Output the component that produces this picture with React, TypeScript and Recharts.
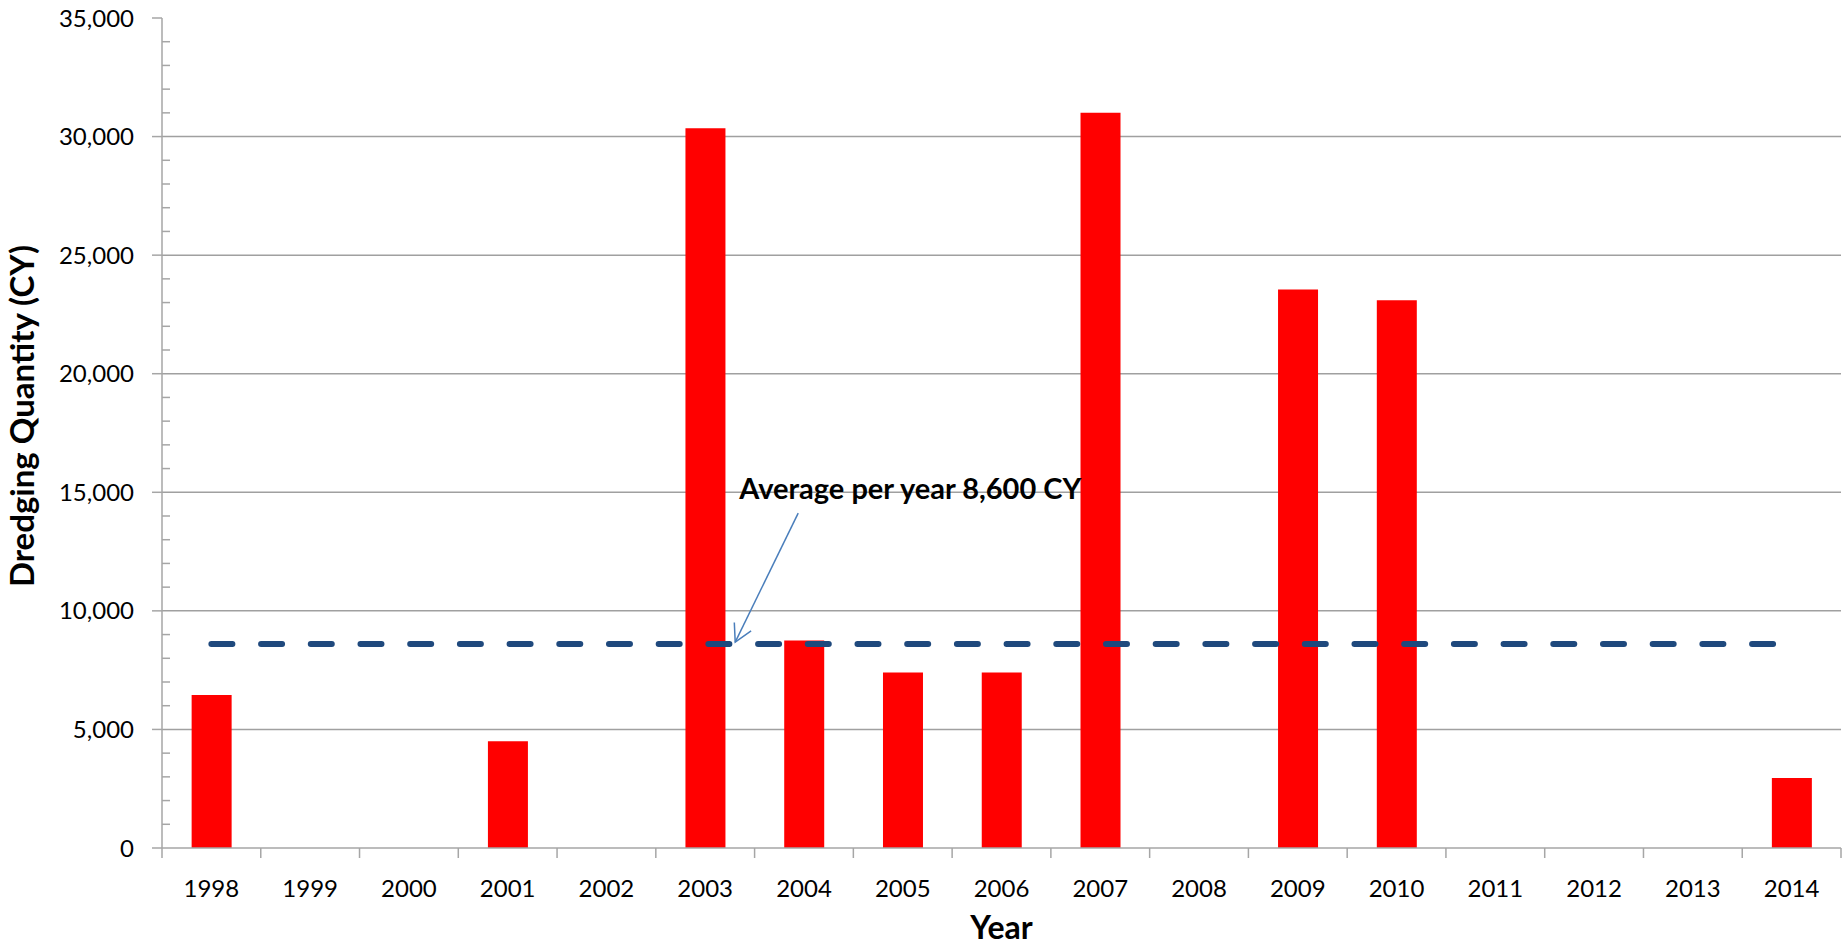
import React from 'react';
import {
  ComposedChart,
  Bar,
  Line,
  XAxis,
  YAxis,
  CartesianGrid,
  ReferenceDot,
} from 'recharts';

// Annual dredged volume by year (cubic yards)
const YEARS = [
  '1998', '1999', '2000', '2001', '2002', '2003', '2004', '2005', '2006',
  '2007', '2008', '2009', '2010', '2011', '2012', '2013', '2014',
];
const QUANTITY = [
  6450, 0, 0, 4500, 0, 30350, 8750, 7400, 7400,
  31000, 0, 23550, 23100, 0, 0, 0, 2950,
];
// Long-term average dredged per year
const AVERAGE = 8600;

// Labelled (major) y ticks and the minor step between them
const MAJOR_TICKS = [0, 5000, 10000, 15000, 20000, 25000, 30000, 35000];
const MINOR_STEP = 1000;

const ALL_Y_TICKS: number[] = [];
MAJOR_TICKS.forEach((t, i) => {
  ALL_Y_TICKS.push(t);
  if (i < MAJOR_TICKS.length - 1) {
    for (let m = t + MINOR_STEP; m < MAJOR_TICKS[i + 1]; m += MINOR_STEP) ALL_Y_TICKS.push(m);
  }
});

const data = YEARS.map((year, i) => ({
  year,
  quantity: QUANTITY[i],
  average: AVERAGE,
}));

const W = 1845;
const H = 947;
const MARGIN = { top: 18, right: 4, bottom: 0, left: 0 };
const Y_AXIS_W = 162;
const X_AXIS_H = 99;

const AXIS_GREY = '#A6A6A6';
const GRID_GREY = '#A0A0A0';
const FRAME = '#595959';
const FONT = 'Lato, "Open Sans", sans-serif';

const YTick = (props: any) => {
  const { x, y, payload } = props;
  const v = payload.value as number;
  if (MAJOR_TICKS.includes(v)) {
    return (
      <g>
        <line x1={x - 10} x2={x} y1={y} y2={y} stroke={AXIS_GREY} strokeWidth={1.5} />
        <text
          x={x - 28}
          y={y}
          dy={8.6}
          textAnchor="end"
          fontFamily={FONT}
          fontSize={24}
          fill="#000"
        >
          {v.toLocaleString('en-US')}
        </text>
      </g>
    );
  }
  return <line x1={x} x2={x + 8} y1={y} y2={y} stroke={AXIS_GREY} strokeWidth={1.5} />;
};

const XTick = (props: any) => {
  const { x, y, payload, index } = props;
  const plotW = W - MARGIN.left - MARGIN.right - Y_AXIS_W;
  const half = typeof payload.offset === 'number' && payload.offset > 0
    ? payload.offset
    : plotW / YEARS.length / 2;
  const last = index === YEARS.length - 1;
  return (
    <g>
      <line x1={x - half} x2={x - half} y1={y} y2={y + 10} stroke={AXIS_GREY} strokeWidth={1.5} />
      {last && (
        <line x1={x + half} x2={x + half} y1={y} y2={y + 10} stroke={AXIS_GREY} strokeWidth={1.5} />
      )}
      <text
        x={x}
        y={y + 49}
        textAnchor="middle"
        fontFamily={FONT}
        fontSize={24}
        fill="#000"
      >
        {payload.value}
      </text>
    </g>
  );
};

// Rotated y-axis title, drawn slightly above the axis midpoint
const YTitle = (props: any) => {
  const vb = props.viewBox || { x: 0, y: MARGIN.top, width: Y_AXIS_W, height: 830 };
  const cx = vb.x + 22;
  const cy = vb.y + vb.height / 2 - 17;
  return (
    <text
      x={cx}
      y={cy}
      dy={11.5}
      transform={`rotate(-90, ${cx}, ${cy})`}
      textAnchor="middle"
      fontFamily={FONT}
      fontWeight={700}
      fontSize={33}
      fill="#000"
    >
      Dredging Quantity (CY)
    </text>
  );
};

// Callout pointing at the average line, anchored to the 2003 position
const AverageNote = (props: any) => {
  const { cx, cy } = props;
  if (typeof cx !== 'number' || typeof cy !== 'number') return null;
  const tipX = cx + 30;
  const tipY = cy - 2;
  const tailX = cx + 93;
  const tailY = cy - 131;
  const ang = Math.atan2(tailY - tipY, tailX - tipX);
  const len = 19.5;
  const spread = 0.5;
  const w1x = tipX + len * Math.cos(ang + spread);
  const w1y = tipY + len * Math.sin(ang + spread);
  const w2x = tipX + len * Math.cos(ang - spread);
  const w2y = tipY + len * Math.sin(ang - spread);
  return (
    <g>
      <line x1={tailX} y1={tailY} x2={tipX} y2={tipY} stroke="#4A7EBB" strokeWidth={1.5} />
      <polyline
        points={`${w1x},${w1y} ${tipX},${tipY} ${w2x},${w2y}`}
        fill="none"
        stroke="#4A7EBB"
        strokeWidth={1.5}
      />
      <text
        x={cx + 34}
        y={cy - 145}
        fontFamily={FONT}
        fontWeight={700}
        fontSize={29}
        fill="#000"
      >
        {`Average per year ${AVERAGE.toLocaleString('en-US')} CY`}
      </text>
    </g>
  );
};

export default function App() {
  return (
    <div style={{ position: 'absolute', left: 0, top: 0, width: W, height: H, background: '#fff' }}>
      <ComposedChart width={W} height={H} data={data} margin={MARGIN} barCategoryGap="30%">
        <CartesianGrid
          vertical={false}
          horizontalValues={[5000, 10000, 15000, 20000, 25000, 30000]}
          stroke={GRID_GREY}
          strokeWidth={1.5}
        />
        <XAxis
          dataKey="year"
          height={X_AXIS_H}
          interval={0}
          tickSize={0}
          tickMargin={0}
          tickLine={false}
          tick={<XTick />}
          axisLine={{ stroke: AXIS_GREY, strokeWidth: 1.5 }}
          label={{
            value: 'Year',
            position: 'insideBottom',
            offset: 8,
            style: { fontFamily: FONT, fontWeight: 700, fontSize: 32, fill: '#000' },
          }}
        />
        <XAxis
          xAxisId="frame"
          dataKey="year"
          orientation="top"
          height={0}
          tick={false}
          tickLine={false}
          axisLine={{ stroke: FRAME, strokeWidth: 2 }}
        />
        <YAxis
          width={Y_AXIS_W}
          domain={[0, 35000]}
          ticks={ALL_Y_TICKS}
          interval={0}
          tickSize={0}
          tickMargin={0}
          tickLine={false}
          tick={<YTick />}
          axisLine={{ stroke: AXIS_GREY, strokeWidth: 1.5 }}
          label={<YTitle />}
        />
        <YAxis
          yAxisId="frame"
          orientation="right"
          width={0}
          domain={[0, 35000]}
          tick={false}
          tickLine={false}
          axisLine={{ stroke: FRAME, strokeWidth: 2 }}
        />
        <Bar dataKey="quantity" fill="#FF0000" isAnimationActive={false} />
        <Line
          dataKey="average"
          type="linear"
          stroke="#1F497D"
          strokeWidth={6}
          strokeDasharray="21 28.7"
          strokeLinecap="round"
          dot={false}
          activeDot={false}
          isAnimationActive={false}
        />
        <ReferenceDot x="2003" y={AVERAGE} r={0} shape={<AverageNote />} />
      </ComposedChart>
    </div>
  );
}
